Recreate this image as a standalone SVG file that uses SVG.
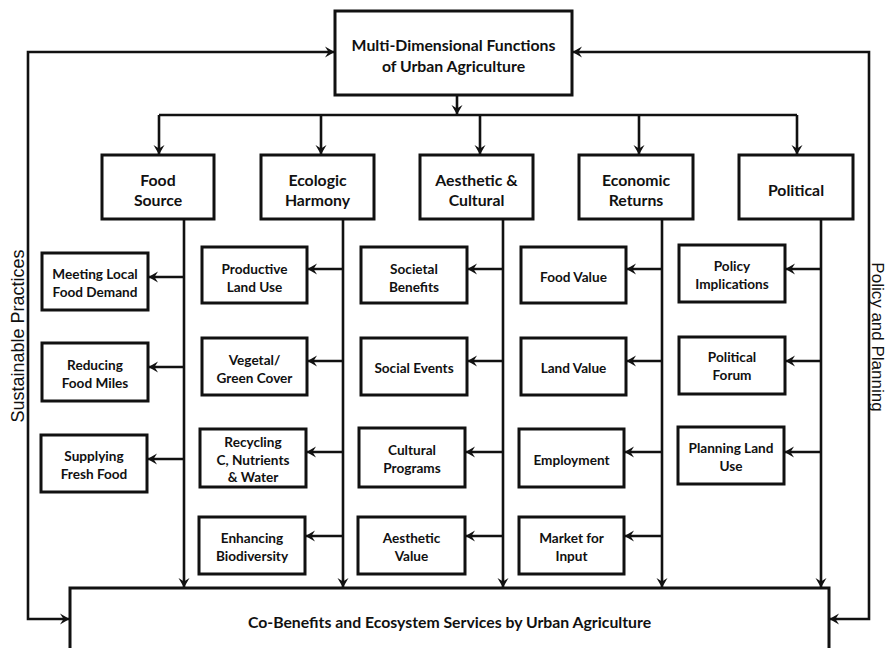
<svg xmlns="http://www.w3.org/2000/svg" width="888" height="648" viewBox="0 0 888 648">
<defs>
<style>
.box{fill:#fff;stroke:#111;stroke-width:3}
.ln{fill:none;stroke:#111;stroke-width:2.6}
.t{font-family:Lato,"Open Sans","Liberation Sans",sans-serif;font-weight:700;fill:#111;text-anchor:middle}
.s{font-size:13.6px}
.c{font-size:15.8px}
.side{font-family:"Liberation Sans",Arial,sans-serif;font-size:18px;fill:#111;text-anchor:middle}
</style>
<marker id="ah" viewBox="-10 -6 11 12" refX="0" refY="0" markerWidth="11" markerHeight="12" markerUnits="userSpaceOnUse" orient="auto-start-reverse">
<path d="M0.5,0 L-9,-5.5 L-5.5,0 L-9,5.5 z" fill="#111"/>
</marker>
</defs>
<rect width="888" height="648" fill="#fff"/>

<g id="connectors">
<path class="ln" d="M457,95 V114" marker-end="url(#ah)"/>
<path class="ln" d="M159,115 H797"/>
<path class="ln" d="M159,115 V154" marker-end="url(#ah)"/>
<path class="ln" d="M321,115 V154" marker-end="url(#ah)"/>
<path class="ln" d="M480,115 V154" marker-end="url(#ah)"/>
<path class="ln" d="M639,115 V154" marker-end="url(#ah)"/>
<path class="ln" d="M797,115 V154" marker-end="url(#ah)"/>
<path class="ln" d="M334,52 H28 V619 H69" marker-start="url(#ah)" marker-end="url(#ah)"/>
<path class="ln" d="M573,52 H869 V619 H830" marker-start="url(#ah)" marker-end="url(#ah)"/>
<path class="ln" d="M184,219 V587" marker-end="url(#ah)"/>
<path class="ln" d="M343,219 V587" marker-end="url(#ah)"/>
<path class="ln" d="M503,219 V587" marker-end="url(#ah)"/>
<path class="ln" d="M662,219 V587" marker-end="url(#ah)"/>
<path class="ln" d="M821,219 V587" marker-end="url(#ah)"/>
<path class="ln" d="M184,277 H149" marker-end="url(#ah)"/>
<path class="ln" d="M184,367 H149" marker-end="url(#ah)"/>
<path class="ln" d="M184,459 H148" marker-end="url(#ah)"/>
<path class="ln" d="M343,269 H308" marker-end="url(#ah)"/>
<path class="ln" d="M343,361 H308" marker-end="url(#ah)"/>
<path class="ln" d="M343,452 H307" marker-end="url(#ah)"/>
<path class="ln" d="M343,536 H306" marker-end="url(#ah)"/>
<path class="ln" d="M503,269 H468" marker-end="url(#ah)"/>
<path class="ln" d="M503,361 H468" marker-end="url(#ah)"/>
<path class="ln" d="M503,452 H466" marker-end="url(#ah)"/>
<path class="ln" d="M503,536 H466" marker-end="url(#ah)"/>
<path class="ln" d="M662,269 H627" marker-end="url(#ah)"/>
<path class="ln" d="M662,361 H627" marker-end="url(#ah)"/>
<path class="ln" d="M662,452 H625" marker-end="url(#ah)"/>
<path class="ln" d="M662,536 H625" marker-end="url(#ah)"/>
<path class="ln" d="M821,269 H786" marker-end="url(#ah)"/>
<path class="ln" d="M821,361 H786" marker-end="url(#ah)"/>
<path class="ln" d="M821,452 H785" marker-end="url(#ah)"/>
</g>

<g id="top">
<rect class="box" x="335" y="11" width="237" height="84"/>
<text class="t c" x="453.5" y="50.5">Multi-Dimensional Functions</text>
<text class="t c" x="453.5" y="71.5">of Urban Agriculture</text>
</g>

<g id="bottom">
<rect class="box" x="70" y="588" width="759" height="80"/>
<text class="t c" x="449.5" y="627.5">Co-Benefits and Ecosystem Services by Urban Agriculture</text>
</g>

<g id="cat-food"><rect class="box" x="102" y="155" width="112" height="64"/>
<text class="t c" x="158" y="185.5">Food</text><text class="t c" x="158" y="205.5">Source</text></g>
<g id="cat-ecologic"><rect class="box" x="261" y="155" width="113" height="64"/>
<text class="t c" x="317.5" y="185.5">Ecologic</text><text class="t c" x="317.5" y="205.5">Harmony</text></g>
<g id="cat-aesthetic"><rect class="box" x="420" y="155" width="113" height="64"/>
<text class="t c" x="476.5" y="185.5">Aesthetic &amp;</text><text class="t c" x="476.5" y="205.5">Cultural</text></g>
<g id="cat-economic"><rect class="box" x="579" y="155" width="114" height="64"/>
<text class="t c" x="636" y="185.5">Economic</text><text class="t c" x="636" y="205.5">Returns</text></g>
<g id="cat-political"><rect class="box" x="739" y="155" width="114" height="64"/>
<text class="t c" x="796" y="195.5">Political</text></g>

<g id="food-1"><rect class="box" x="42" y="253" width="106" height="57"/>
<text class="t s" x="95" y="279">Meeting Local</text><text class="t s" x="95" y="297">Food Demand</text></g>
<g id="food-2"><rect class="box" x="42" y="343" width="106" height="58"/>
<text class="t s" x="95" y="370">Reducing</text><text class="t s" x="95" y="388">Food Miles</text></g>
<g id="food-3"><rect class="box" x="41" y="435" width="106" height="57"/>
<text class="t s" x="94" y="461">Supplying</text><text class="t s" x="94" y="479">Fresh Food</text></g>

<g id="eco-1"><rect class="box" x="202" y="247" width="105" height="56"/>
<text class="t s" x="254.5" y="274">Productive</text><text class="t s" x="254.5" y="292">Land Use</text></g>
<g id="eco-2"><rect class="box" x="202" y="338" width="105" height="57"/>
<text class="t s" x="254.5" y="365">Vegetal/</text><text class="t s" x="254.5" y="383">Green Cover</text></g>
<g id="eco-3"><rect class="box" x="200" y="429" width="106" height="58"/>
<text class="t s" x="253" y="447">Recycling</text><text class="t s" x="253" y="465">C, Nutrients</text><text class="t s" x="253" y="482">&amp; Water</text></g>
<g id="eco-4"><rect class="box" x="199" y="517" width="106" height="57"/>
<text class="t s" x="252" y="543">Enhancing</text><text class="t s" x="252" y="561">Biodiversity</text></g>

<g id="aes-1"><rect class="box" x="361" y="247" width="106" height="56"/>
<text class="t s" x="414" y="274">Societal</text><text class="t s" x="414" y="292">Benefits</text></g>
<g id="aes-2"><rect class="box" x="361" y="338" width="106" height="57"/>
<text class="t s" x="414" y="373">Social Events</text></g>
<g id="aes-3"><rect class="box" x="359" y="428" width="106" height="59"/>
<text class="t s" x="412" y="455">Cultural</text><text class="t s" x="412" y="473">Programs</text></g>
<g id="aes-4"><rect class="box" x="358" y="517" width="107" height="57"/>
<text class="t s" x="411.5" y="543">Aesthetic</text><text class="t s" x="411.5" y="561">Value</text></g>

<g id="eco-ret-1"><rect class="box" x="521" y="247" width="105" height="56"/>
<text class="t s" x="573.5" y="282">Food Value</text></g>
<g id="eco-ret-2"><rect class="box" x="521" y="338" width="105" height="57"/>
<text class="t s" x="573.5" y="373">Land Value</text></g>
<g id="eco-ret-3"><rect class="box" x="519" y="429" width="105" height="58"/>
<text class="t s" x="571.5" y="465">Employment</text></g>
<g id="eco-ret-4"><rect class="box" x="519" y="517" width="105" height="57"/>
<text class="t s" x="571.5" y="543">Market for</text><text class="t s" x="571.5" y="561">Input</text></g>

<g id="pol-1"><rect class="box" x="679" y="245" width="106" height="57"/>
<text class="t s" x="732" y="271">Policy</text><text class="t s" x="732" y="289">Implications</text></g>
<g id="pol-2"><rect class="box" x="679" y="337" width="106" height="57"/>
<text class="t s" x="732" y="362">Political</text><text class="t s" x="732" y="380">Forum</text></g>
<g id="pol-3"><rect class="box" x="678" y="427" width="106" height="57"/>
<text class="t s" x="731" y="453">Planning Land</text><text class="t s" x="731" y="471">Use</text></g>

<g id="side-labels">
<text class="side" transform="translate(24,336) rotate(-90)">Sustainable Practices</text>
<text class="side" style="font-size:17px" transform="translate(872,337) rotate(90)">Policy and Planning</text>
</g>
</svg>
